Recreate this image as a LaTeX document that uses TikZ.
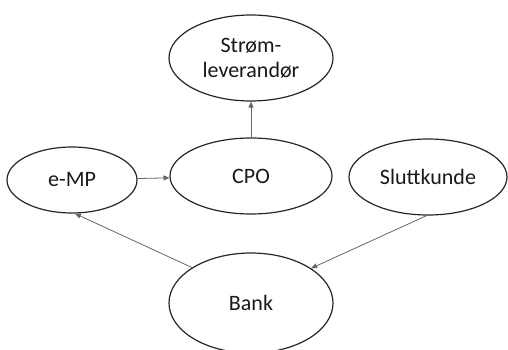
\documentclass[tikz,border=0pt]{standalone}
\usepackage{fontspec}
\setmainfont{Carlito}
\usetikzlibrary{shapes.geometric,arrows.meta}
\begin{document}
\begin{tikzpicture}[x=1pt,y=1pt,
  actor/.style={ellipse,draw=black!85,line width=1.2pt,inner sep=0pt,
    text=black!90,align=center,font=\fontsize{22}{25}\selectfont},
  flow/.style={draw=black!60,line width=0.8pt,
    -{Triangle[length=6pt,width=5pt]}}]
  \useasboundingbox (0,0) rectangle (508,349);
  \node[actor,minimum width=164pt,minimum height=86pt] (str) at (251,291) {Strøm-\\leverandør};
  \node[actor,minimum width=130pt,minimum height=66pt] (emp) at (72,169) {e-MP};
  \node[actor,minimum width=162pt,minimum height=76pt] (cpo) at (251,173) {CPO};
  \node[actor,minimum width=158pt,minimum height=76pt] (slk) at (428,172) {Sluttkunde};
  \node[actor,minimum width=164pt,minimum height=100pt] (bank) at (251,46) {Bank};
  \draw[flow] (emp) -- (cpo);
  \draw[flow] (cpo) -- (str);
  \draw[flow] (bank.149) -- (emp.275);
  \draw[flow] (slk.268) -- (bank.30);
\end{tikzpicture}
\end{document}
